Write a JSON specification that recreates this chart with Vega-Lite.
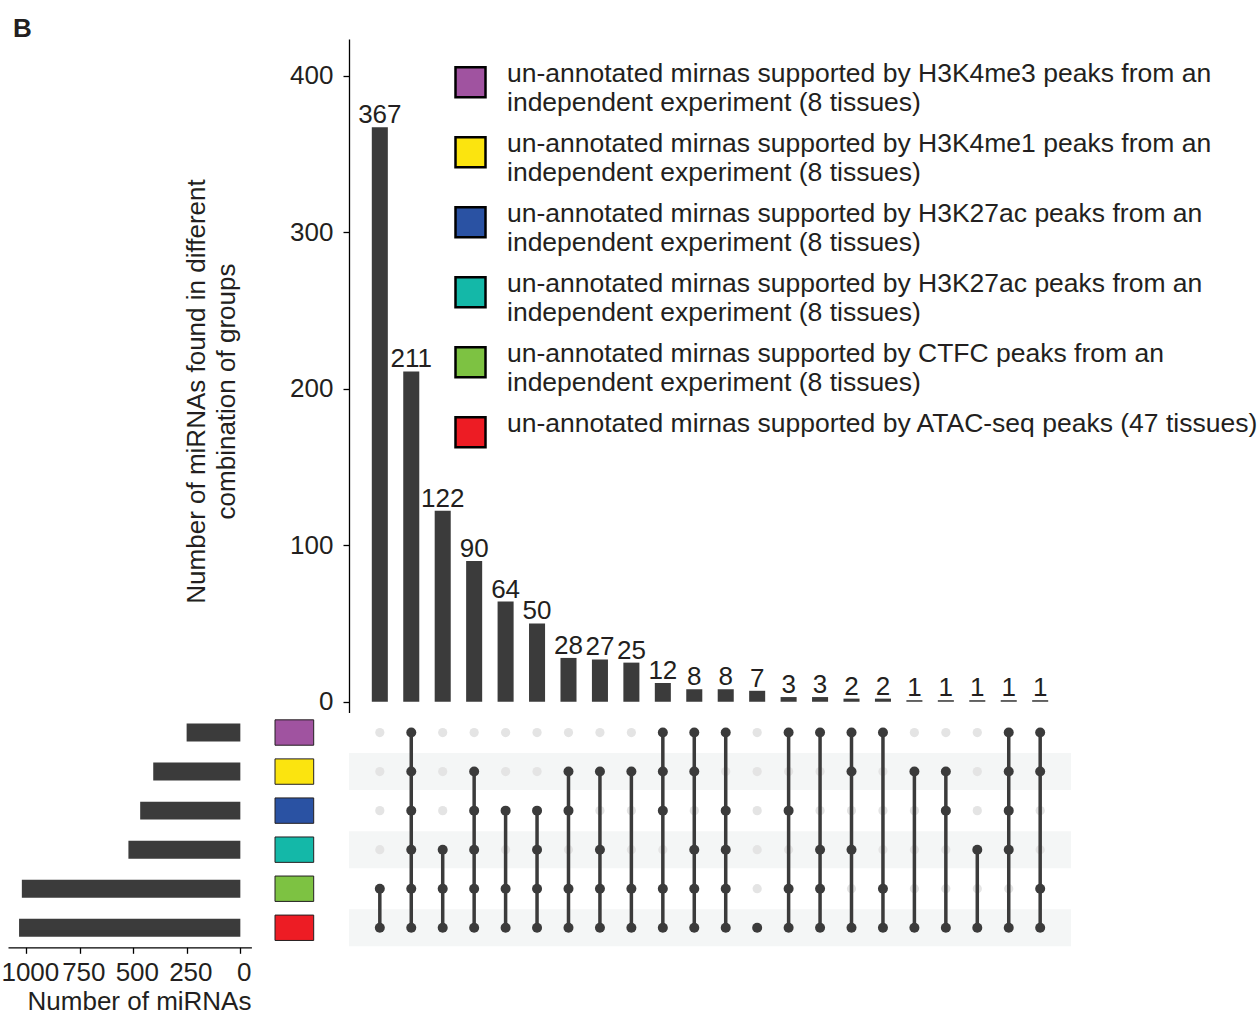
{
  "$schema": "https://vega.github.io/schema/vega-lite/v6.json",
  "padding": {"left": 0, "top": 15, "right": 0, "bottom": 0},
  "autosize": {"type": "pad"},
  "background": "white",
  "config": {"font": "Liberation Sans", "view": {"stroke": null}},
  "datasets": {
    "intersections": [
      {"id": "i01", "count": 367, "H3K4me3": 0, "H3K4me1": 0, "H3K27ac_a": 0, "H3K27ac_b": 0, "CTFC": 1, "ATAC": 1},
      {"id": "i02", "count": 211, "H3K4me3": 1, "H3K4me1": 1, "H3K27ac_a": 1, "H3K27ac_b": 1, "CTFC": 1, "ATAC": 1},
      {"id": "i03", "count": 122, "H3K4me3": 0, "H3K4me1": 0, "H3K27ac_a": 0, "H3K27ac_b": 1, "CTFC": 1, "ATAC": 1},
      {"id": "i04", "count": 90, "H3K4me3": 0, "H3K4me1": 1, "H3K27ac_a": 1, "H3K27ac_b": 1, "CTFC": 1, "ATAC": 1},
      {"id": "i05", "count": 64, "H3K4me3": 0, "H3K4me1": 0, "H3K27ac_a": 1, "H3K27ac_b": 0, "CTFC": 1, "ATAC": 1},
      {"id": "i06", "count": 50, "H3K4me3": 0, "H3K4me1": 0, "H3K27ac_a": 1, "H3K27ac_b": 1, "CTFC": 1, "ATAC": 1},
      {"id": "i07", "count": 28, "H3K4me3": 0, "H3K4me1": 1, "H3K27ac_a": 1, "H3K27ac_b": 0, "CTFC": 1, "ATAC": 1},
      {"id": "i08", "count": 27, "H3K4me3": 0, "H3K4me1": 1, "H3K27ac_a": 0, "H3K27ac_b": 1, "CTFC": 1, "ATAC": 1},
      {"id": "i09", "count": 25, "H3K4me3": 0, "H3K4me1": 1, "H3K27ac_a": 0, "H3K27ac_b": 0, "CTFC": 1, "ATAC": 1},
      {"id": "i10", "count": 12, "H3K4me3": 1, "H3K4me1": 1, "H3K27ac_a": 1, "H3K27ac_b": 0, "CTFC": 1, "ATAC": 1},
      {"id": "i11", "count": 8, "H3K4me3": 1, "H3K4me1": 1, "H3K27ac_a": 0, "H3K27ac_b": 1, "CTFC": 1, "ATAC": 1},
      {"id": "i12", "count": 8, "H3K4me3": 1, "H3K4me1": 0, "H3K27ac_a": 1, "H3K27ac_b": 1, "CTFC": 1, "ATAC": 1},
      {"id": "i13", "count": 7, "H3K4me3": 0, "H3K4me1": 0, "H3K27ac_a": 0, "H3K27ac_b": 0, "CTFC": 0, "ATAC": 1},
      {"id": "i14", "count": 3, "H3K4me3": 1, "H3K4me1": 0, "H3K27ac_a": 1, "H3K27ac_b": 0, "CTFC": 1, "ATAC": 1},
      {"id": "i15", "count": 3, "H3K4me3": 1, "H3K4me1": 0, "H3K27ac_a": 0, "H3K27ac_b": 1, "CTFC": 1, "ATAC": 1},
      {"id": "i16", "count": 2, "H3K4me3": 1, "H3K4me1": 1, "H3K27ac_a": 0, "H3K27ac_b": 1, "CTFC": 0, "ATAC": 1},
      {"id": "i17", "count": 2, "H3K4me3": 1, "H3K4me1": 0, "H3K27ac_a": 0, "H3K27ac_b": 0, "CTFC": 1, "ATAC": 1},
      {"id": "i18", "count": 1, "H3K4me3": 0, "H3K4me1": 1, "H3K27ac_a": 0, "H3K27ac_b": 0, "CTFC": 0, "ATAC": 1},
      {"id": "i19", "count": 1, "H3K4me3": 0, "H3K4me1": 1, "H3K27ac_a": 1, "H3K27ac_b": 0, "CTFC": 0, "ATAC": 1},
      {"id": "i20", "count": 1, "H3K4me3": 0, "H3K4me1": 0, "H3K27ac_a": 0, "H3K27ac_b": 1, "CTFC": 0, "ATAC": 1},
      {"id": "i21", "count": 1, "H3K4me3": 1, "H3K4me1": 1, "H3K27ac_a": 1, "H3K27ac_b": 1, "CTFC": 0, "ATAC": 1},
      {"id": "i22", "count": 1, "H3K4me3": 1, "H3K4me1": 1, "H3K27ac_a": 0, "H3K27ac_b": 0, "CTFC": 1, "ATAC": 1}
    ],
    "sets": [
      {"set": "H3K4me3"}, {"set": "H3K4me1"}, {"set": "H3K27ac_a"}, {"set": "H3K27ac_b"}, {"set": "CTFC"}, {"set": "ATAC"}
    ]
  },
  "bounds": "flush",
  "columns": 3,
  "spacing": {"row": 0, "column": 23},
  "concat": [
    {
      "title": {"text": "B", "anchor": "start", "fontSize": 26, "fontWeight": "bold", "baseline": "alphabetic", "offset": -23.7, "dx": 5, "color": "#231f20"},
      "width": 243.4,
      "height": 673.4,
      "data": {"values": [{}]},
      "mark": {"type": "text", "text": ""},
      "encoding": {}
    },
    {
      "width": 50.3,
      "height": 673.4,
      "data": {"values": [{}]},
      "mark": {"type": "text", "text": ""},
      "encoding": {}
    },
    {
      "width": 722,
      "height": 673.4,
      "data": {"name": "intersections"},
      "encoding": {
        "x": {"field": "id", "type": "nominal", "sort": "ascending", "scale": {"type": "band", "paddingInner": 0, "paddingOuter": 0.48}, "axis": null}
      },
      "layer": [
        {
          "mark": {"type": "bar", "width": {"band": 0.51}, "color": "#3b3b3b"},
          "encoding": {
            "y": {
              "field": "count", "type": "quantitative",
              "scale": {"domain": [-6.8, 423.4], "nice": false, "zero": false},
              "axis": {
                "values": [0, 100, 200, 300, 400], "grid": false,
                "domainColor": "black", "domainWidth": 1.3, "tickColor": "black", "tickWidth": 1.3, "tickSize": 6,
                "labelFontSize": 26, "labelColor": "#231f20", "labelPadding": 10,
                "title": ["Number of miRNAs found in different", "combination of groups"],
                "titleFontSize": 26, "titleFontWeight": "normal", "titleColor": "#231f20", "titleLineHeight": 30,
                "titleX": -153, "titleY": 352, "titleAngle": -90, "titleBaseline": "middle", "titleAlign": "center"
              }
            }
          }
        },
        {
          "mark": {"type": "text", "dy": -4, "baseline": "alphabetic", "fontSize": 26, "color": "#231f20"},
          "encoding": {
            "y": {"field": "count", "type": "quantitative"},
            "text": {"field": "count", "type": "quantitative"}
          }
        },
        {
          "mark": {"type": "rule", "color": "black", "strokeWidth": 1.5},
          "encoding": {"y": {"datum": 0}}
        }
      ]
    },
    {
      "width": 243.4,
      "height": 234.3,
      "data": {"name": "intersections"},
      "transform": [
        {"fold": ["H3K4me3", "H3K4me1", "H3K27ac_a", "H3K27ac_b", "CTFC", "ATAC"], "as": ["set", "member"]},
        {"filter": "datum.member == 1"},
        {"aggregate": [{"op": "sum", "field": "count", "as": "size"}], "groupby": ["set"]}
      ],
      "mark": {"type": "bar", "color": "#3b3b3b", "height": {"band": 0.46}},
      "encoding": {
        "y": {"field": "set", "type": "nominal", "scale": {"domain": ["H3K4me3", "H3K4me1", "H3K27ac_a", "H3K27ac_b", "CTFC", "ATAC"], "paddingInner": 0, "paddingOuter": 0}, "axis": null},
        "x": {
          "field": "size", "type": "quantitative",
          "scale": {"domain": [-51.7, 1085.7], "reverse": true, "nice": false, "zero": false},
          "axis": {
            "values": [0, 250, 500, 750, 1000], "format": "d", "grid": false,
            "domainColor": "black", "domainWidth": 1.3, "tickColor": "black", "tickWidth": 1.3, "tickSize": 6,
            "labelFontSize": 26, "labelColor": "#231f20", "labelPadding": 6, "labelOffset": 3.5, "labelOverlap": false,
            "title": "Number of miRNAs", "titleFontSize": 26, "titleFontWeight": "normal", "titleColor": "#231f20", "titlePadding": 3, "titleX": 131
          }
        }
      }
    },
    {
      "width": 50.3,
      "height": 234.3,
      "data": {"name": "sets"},
      "mark": {"type": "bar", "stroke": "#231f20", "strokeWidth": 1, "height": {"band": 0.65}},
      "encoding": {
        "y": {"field": "set", "type": "nominal", "scale": {"domain": ["H3K4me3", "H3K4me1", "H3K27ac_a", "H3K27ac_b", "CTFC", "ATAC"], "paddingInner": 0, "paddingOuter": 0}, "axis": null},
        "x": {"datum": 1, "type": "quantitative", "scale": {"domain": [0, 1.3], "nice": false, "zero": true}, "axis": null},
        "color": {
          "field": "set", "type": "nominal",
          "scale": {"domain": ["H3K4me3", "H3K4me1", "H3K27ac_a", "H3K27ac_b", "CTFC", "ATAC"], "range": ["#a053a0", "#fbe40f", "#2a52a3", "#14b8a8", "#7dc242", "#ed1c24"]},
          "legend": {
            "orient": "none", "legendX": 446, "legendY": 26.7, "title": null,
            "symbolType": "square", "symbolSize": 900, "symbolStrokeColor": "black", "symbolStrokeWidth": 2.5, "symbolOpacity": 1,
            "labelFontSize": 26.5, "labelLimit": 0, "labelOffset": 20, "rowPadding": 14, "labelColor": "#231f20", "labelBaseline": "alphabetic",
            "labelExpr": "datum.label == 'H3K4me3' ? ['un-annotated mirnas supported by H3K4me3 peaks from an', 'independent experiment (8 tissues)'] : datum.label == 'H3K4me1' ? ['un-annotated mirnas supported by H3K4me1 peaks from an', 'independent experiment (8 tissues)'] : datum.label == 'H3K27ac_a' ? ['un-annotated mirnas supported by H3K27ac peaks from an', 'independent experiment (8 tissues)'] : datum.label == 'H3K27ac_b' ? ['un-annotated mirnas supported by H3K27ac peaks from an', 'independent experiment (8 tissues)'] : datum.label == 'CTFC' ? ['un-annotated mirnas supported by CTFC peaks from an', 'independent experiment (8 tissues)'] : ['un-annotated mirnas supported by ATAC-seq peaks (47 tissues)', '']"
          }
        }
      }
    },
    {
      "width": 722,
      "height": 234.3,
      "layer": [
        {
          "data": {"name": "sets"},
          "transform": [{"filter": {"field": "set", "oneOf": ["H3K4me1", "H3K27ac_b", "ATAC"]}}],
          "mark": {"type": "bar", "color": "#f4f6f6", "height": {"band": 0.95}},
          "encoding": {
            "y": {"field": "set", "type": "nominal", "scale": {"domain": ["H3K4me3", "H3K4me1", "H3K27ac_a", "H3K27ac_b", "CTFC", "ATAC"], "paddingInner": 0, "paddingOuter": 0}, "axis": null}
          }
        },
        {
          "data": {"name": "intersections"},
          "transform": [
            {"fold": ["H3K4me3", "H3K4me1", "H3K27ac_a", "H3K27ac_b", "CTFC", "ATAC"], "as": ["set", "member"]},
            {"filter": "datum.member == 0"}
          ],
          "mark": {"type": "circle", "size": 85, "opacity": 1, "color": "#e4e4e4"},
          "encoding": {
            "x": {"field": "id", "type": "nominal", "sort": "ascending", "scale": {"type": "band", "paddingInner": 0, "paddingOuter": 0.48}, "axis": null},
            "y": {"field": "set", "type": "nominal"}
          }
        },
        {
          "data": {"name": "intersections"},
          "transform": [
            {"fold": ["H3K4me3", "H3K4me1", "H3K27ac_a", "H3K27ac_b", "CTFC", "ATAC"], "as": ["set", "member"]},
            {"filter": "datum.member == 1"}
          ],
          "mark": {"type": "line", "color": "#3b3b3b", "strokeWidth": 3.5},
          "encoding": {
            "x": {"field": "id", "type": "nominal", "sort": "ascending"},
            "y": {"field": "set", "type": "nominal"},
            "detail": {"field": "id"}
          }
        },
        {
          "data": {"name": "intersections"},
          "transform": [
            {"fold": ["H3K4me3", "H3K4me1", "H3K27ac_a", "H3K27ac_b", "CTFC", "ATAC"], "as": ["set", "member"]},
            {"filter": "datum.member == 1"}
          ],
          "mark": {"type": "circle", "size": 100, "opacity": 1, "color": "#3b3b3b"},
          "encoding": {
            "x": {"field": "id", "type": "nominal", "sort": "ascending"},
            "y": {"field": "set", "type": "nominal"}
          }
        }
      ]
    }
  ]
}
